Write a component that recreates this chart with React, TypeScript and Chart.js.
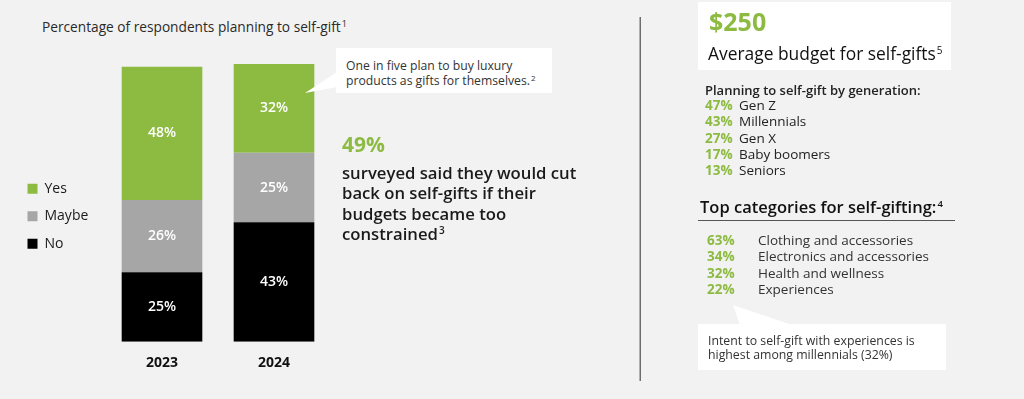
import React, { useEffect, useRef } from "react";
import { Chart, registerables } from "chart.js";

Chart.register(...registerables);

const years = ["2023", "2024"];
const yesValues = [48, 32];
const maybeValues = [26, 25];
const noValues = [25, 43];
const seriesNames = ["Yes", "Maybe", "No"];

const generations = ["Gen Z", "Millennials", "Gen X", "Baby boomers", "Seniors"];
const generationShares = [47, 43, 27, 17, 13];
const categories = [
  "Clothing and accessories",
  "Electronics and accessories",
  "Health and wellness",
  "Experiences",
];
const categoryShares = [63, 34, 32, 22];

const GREEN = "#8dbb42";
const GRAY = "#a6a6a6";
const BLACK = "#000000";
const FONT = "'Open Sans', 'Noto Sans', sans-serif";

const valueLabels = {
  id: "valueLabels",
  afterDatasetsDraw(chart: any) {
    const ctx = chart.ctx;
    ctx.save();
    ctx.fillStyle = "#ffffff";
    ctx.font = `600 14px ${FONT}`;
    ctx.textAlign = "center";
    ctx.textBaseline = "middle";
    chart.data.datasets.forEach((ds: any, di: number) => {
      const meta = chart.getDatasetMeta(di);
      meta.data.forEach((el: any, i: number) => {
        const v = ds.data[i];
        ctx.fillText(v + "%", el.x, (el.y + el.base) / 2);
      });
    });
    ctx.restore();
  },
};

function BarChart() {
  const ref = useRef<HTMLCanvasElement | null>(null);
  useEffect(() => {
    if (!ref.current) return;
    const chart = new Chart(ref.current, {
      type: "bar",
      data: {
        labels: years,
        datasets: [
          { label: seriesNames[2], data: noValues, backgroundColor: BLACK },
          { label: seriesNames[1], data: maybeValues, backgroundColor: GRAY },
          { label: seriesNames[0], data: yesValues, backgroundColor: GREEN },
        ],
      },
      options: {
        responsive: false,
        animation: false,
        layout: { padding: { top: 64, right: 10, left: 14, bottom: 15.3 } },
        datasets: { bar: { categoryPercentage: 0.8, barPercentage: 0.9 } },
        plugins: {
          tooltip: { enabled: false },
          legend: {
            position: "left",
            align: "center",
            fullSize: false,
            reverse: true,
            title: { display: true, text: " ", font: { size: 10 }, padding: 7.5 },
            labels: {
              boxWidth: 10,
              boxHeight: 10,
              padding: 13.5,
              color: "#1a1a1a",
              font: { family: FONT, size: 14 },
            },
          },
        },
        scales: {
          x: {
            stacked: true,
            grid: { display: false, drawTicks: false },
            border: { display: false },
            ticks: {
              color: "#111",
              padding: 12.6,
              font: { family: FONT, size: 14, weight: "bold" },
            },
          },
          y: {
            stacked: true,
            min: 0,
            max: 100,
            grid: { display: false, drawTicks: false },
            border: { display: false },
            ticks: { display: false },
            afterFit: (scale: any) => {
              scale.width = 13;
            },
          },
        },
      },
      plugins: [valueLabels],
    });
    return () => chart.destroy();
  }, []);
  return (
    <canvas
      ref={ref}
      width={340}
      height={399}
      style={{ position: "absolute", left: 0, top: 0, width: 340, height: 399 }}
    />
  );
}

const abs = (s: React.CSSProperties): React.CSSProperties => ({ position: "absolute", ...s });

function Sup({ children, size, lift }: { children: React.ReactNode; size: number; lift: number }) {
  return (
    <span style={{ fontSize: size, position: "relative", top: -lift, lineHeight: 0, marginLeft: 1 }}>{children}</span>
  );
}

export default function App() {
  return (
    <div
      style={{
        position: "absolute",
        left: 0,
        top: 0,
        width: 1024,
        height: 399,
        background: "#f2f2f2",
        overflow: "hidden",
        fontFamily: FONT,
        color: "#222",
      }}
    >
      <div style={abs({ left: 42, top: 17, fontSize: 13.7, lineHeight: "20px", color: "#2a2a2a", whiteSpace: "nowrap" })}>
        Percentage of respondents planning to self-gift<Sup size={9} lift={5}>1</Sup>
      </div>
      <BarChart />
      <svg width={1024} height={399} style={abs({ left: 0, top: 0, pointerEvents: "none" })}>
        <polygon points="337,72 305,93 337,87" fill="#ffffff" />
        <polygon points="733,305 740,325 792,325" fill="#ffffff" />
        <rect x={639.5} y={17} width={1.5} height={364} fill="#6e6e6e" />
        <rect x={698} y={220} width={257} height={1} fill="#555" />
      </svg>
      <div style={abs({ left: 336, top: 48, width: 216, height: 45, background: "#fff" })} />
      <div style={abs({ left: 346, top: 57.5, fontSize: 12.2, lineHeight: "15px", color: "#333", whiteSpace: "nowrap" })}>
        One in five plan to buy luxury
        <br />
        products as gifts for themselves.<Sup size={8} lift={4}>2</Sup>
      </div>
      <div style={abs({ left: 342, top: 131, fontSize: 21, lineHeight: "26px", fontWeight: 700, color: GREEN })}>49%</div>
      <div style={abs({ left: 342, top: 163, fontSize: 16.7, lineHeight: "20.3px", fontWeight: 600, color: "#1a1a1a", whiteSpace: "nowrap" })}>
        surveyed said they would cut
        <br />
        back on self-gifts if their
        <br />
        budgets became too
        <br />
        constrained<Sup size={10} lift={6}>3</Sup>
      </div>

      <div style={abs({ left: 698, top: 2, width: 253, height: 68, background: "#fff" })} />
      <div style={abs({ left: 709, top: 6, fontSize: 25, lineHeight: "30px", fontWeight: 700, color: GREEN })}>$250</div>
      <div style={abs({ left: 708, top: 41, fontSize: 17.4, lineHeight: "24px", color: "#111", whiteSpace: "nowrap" })}>
        Average budget for self-gifts<Sup size={10} lift={6}>5</Sup>
      </div>
      <div style={abs({ left: 705, top: 82, fontSize: 13, lineHeight: "16.3px", fontWeight: 600, color: "#222", whiteSpace: "nowrap" })}>
        Planning to self-gift by generation:
      </div>
      {generations.map((g, i) => (
        <div key={g} style={abs({ left: 705, top: 97 + i * 16.3, fontSize: 13.5, lineHeight: "16.3px", whiteSpace: "nowrap", color: "#222" })}>
          <span style={{ color: GREEN, fontWeight: 700, display: "inline-block", width: 34 }}>{generationShares[i]}%</span>
          {g}
        </div>
      ))}
      <div style={abs({ left: 700, top: 195, fontSize: 16.5, lineHeight: "24px", fontWeight: 600, color: "#111", whiteSpace: "nowrap" })}>
        Top categories for self-gifting:<Sup size={9.5} lift={6}>4</Sup>
      </div>
      {categories.map((c, i) => (
        <div key={c} style={abs({ left: 707, top: 232 + i * 16.4, fontSize: 13.5, lineHeight: "16.4px", whiteSpace: "nowrap", color: "#333" })}>
          <span style={{ color: GREEN, fontWeight: 700, display: "inline-block", width: 51 }}>{categoryShares[i]}%</span>
          {c}
        </div>
      ))}
      <div style={abs({ left: 698, top: 324, width: 248, height: 46, background: "#fff" })} />
      <div style={abs({ left: 708, top: 334, fontSize: 12.3, lineHeight: "14px", color: "#333", whiteSpace: "nowrap" })}>
        Intent to self-gift with experiences is
        <br />
        highest among millennials (32%)
      </div>
    </div>
  );
}
